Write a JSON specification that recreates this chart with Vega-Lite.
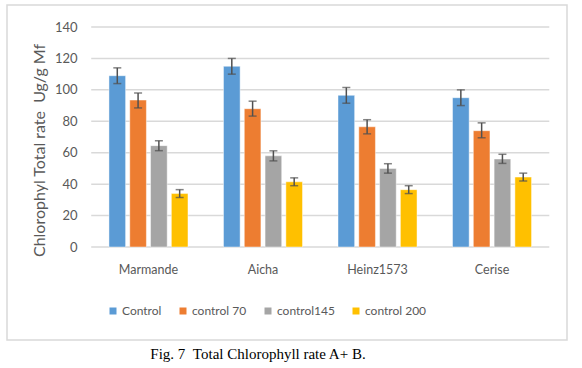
{
  "$schema": "https://vega.github.io/schema/vega-lite/v6.json",
  "width": 560,
  "height": 335,
  "autosize": "none",
  "padding": {"left": 7, "top": 5, "right": 15, "bottom": 28},
  "background": "white",
  "config": {
    "view": {"stroke": "#D9D9D9", "strokeWidth": 1.5},
    "font": "Lato"
  },
  "title": {
    "text": "Fig. 7 \u00a0Total Chlorophyll rate A+ B.",
    "orient": "bottom",
    "anchor": "middle",
    "frame": "group",
    "font": "Liberation Serif",
    "fontSize": 15,
    "fontWeight": "normal",
    "color": "#000000",
    "offset": 7,
    "dx": -29
  },
  "datasets": {
    "bars": [
      {"cultivar": "Marmande", "treatment": "Control", "value": 109, "lo": 104, "hi": 114},
      {"cultivar": "Marmande", "treatment": "control 70", "value": 93.5, "lo": 88.5, "hi": 98},
      {"cultivar": "Marmande", "treatment": "control145", "value": 64.5, "lo": 61.3, "hi": 67.6},
      {"cultivar": "Marmande", "treatment": "control 200", "value": 34, "lo": 31.5, "hi": 36.5},
      {"cultivar": "Aicha", "treatment": "Control", "value": 115, "lo": 110, "hi": 120},
      {"cultivar": "Aicha", "treatment": "control 70", "value": 88, "lo": 83.3, "hi": 92.8},
      {"cultivar": "Aicha", "treatment": "control145", "value": 58, "lo": 54.8, "hi": 61.2},
      {"cultivar": "Aicha", "treatment": "control 200", "value": 41.5, "lo": 39, "hi": 44},
      {"cultivar": "Heinz1573", "treatment": "Control", "value": 96.5, "lo": 91.5, "hi": 101.5},
      {"cultivar": "Heinz1573", "treatment": "control 70", "value": 76.5, "lo": 72, "hi": 81},
      {"cultivar": "Heinz1573", "treatment": "control145", "value": 50, "lo": 47, "hi": 53},
      {"cultivar": "Heinz1573", "treatment": "control 200", "value": 36.5, "lo": 34, "hi": 39},
      {"cultivar": "Cerise", "treatment": "Control", "value": 95, "lo": 90, "hi": 100},
      {"cultivar": "Cerise", "treatment": "control 70", "value": 74, "lo": 69.5, "hi": 79},
      {"cultivar": "Cerise", "treatment": "control145", "value": 56, "lo": 53.2, "hi": 59},
      {"cultivar": "Cerise", "treatment": "control 200", "value": 44.5, "lo": 42, "hi": 47}
    ],
    "grid": [{"g": 0}, {"g": 20}, {"g": 40}, {"g": 60}, {"g": 80}, {"g": 100}, {"g": 120}, {"g": 140}]
  },
  "encoding": {
    "x": {
      "field": "cultivar",
      "type": "nominal",
      "sort": ["Marmande", "Aicha", "Heinz1573", "Cerise"],
      "scale": {"domain": ["Marmande", "Aicha", "Heinz1573", "Cerise"], "paddingInner": 0.31, "paddingOuter": 0.6, "align": 0.742},
      "axis": {
        "orient": "bottom",
        "offset": -93,
        "title": null,
        "domain": false,
        "ticks": false,
        "labelAngle": 0,
        "labelPadding": 16,
        "labelFont": "Lato",
        "labelFontSize": 12.5,
        "labelColor": "#595959"
      }
    }
  },
  "layer": [
    {
      "data": {"name": "grid"},
      "mark": {"type": "rule", "color": "#D9D9D9", "strokeWidth": 1.5},
      "encoding": {
        "x": {"datum": "Marmande", "bandPosition": -0.2247},
        "x2": {"datum": "Cerise", "bandPosition": 1.2247},
        "y": {"field": "g", "type": "quantitative"}
      }
    },
    {
      "data": {"name": "bars"},
      "mark": {"type": "bar", "stroke": "#ffffff", "strokeOpacity": 0.45, "strokeWidth": 1},
      "encoding": {
        "xOffset": {
          "field": "treatment",
          "type": "nominal",
          "sort": ["Control", "control 70", "control145", "control 200"],
          "scale": {"domain": ["Control", "control 70", "control145", "control 200"], "paddingInner": 0.2, "paddingOuter": 0}
        },
        "y": {
          "field": "value",
          "type": "quantitative",
          "scale": {"domain": [-59.18, 154], "nice": false, "zero": false},
          "axis": {
            "values": [0, 20, 40, 60, 80, 100, 120, 140],
            "offset": -84,
            "grid": false,
            "domain": false,
            "ticks": false,
            "labelPadding": 14,
            "labelFont": "Lato",
            "labelFontSize": 13,
            "labelColor": "#595959",
            "title": "Chlorophyl Total rate \u00a0Ug/g Mf",
            "titleFont": "Lato",
            "titleFontSize": 16,
            "titleFontWeight": "normal",
            "titleColor": "#595959",
            "titleX": -52,
            "titleY": 145,
            "titleAlign": "center",
            "titleBaseline": "middle",
            "titleAngle": -90
          }
        },
        "y2": {"datum": 0},
        "color": {
          "field": "treatment",
          "type": "nominal",
          "scale": {"domain": ["Control", "control 70", "control145", "control 200"], "range": ["#5B9BD5", "#ED7D31", "#A5A5A5", "#FFC000"]},
          "legend": {
            "orient": "none",
            "direction": "horizontal",
            "legendX": 100,
            "legendY": 300,
            "title": null,
            "symbolType": "square",
            "symbolSize": 49,
            "symbolStrokeWidth": 0,
            "labelFont": "Lato",
            "labelFontSize": 12,
            "labelColor": "#595959",
            "labelOffset": 3,
            "columnPadding": 15,
            "padding": 0
          }
        }
      }
    },
    {
      "data": {"name": "bars"},
      "mark": {"type": "rule", "color": "#505050", "strokeWidth": 1.5},
      "encoding": {
        "xOffset": {"field": "treatment", "type": "nominal", "sort": ["Control", "control 70", "control145", "control 200"]},
        "y": {"field": "lo", "type": "quantitative"},
        "y2": {"field": "hi"}
      }
    },
    {
      "data": {"name": "bars"},
      "mark": {"type": "tick", "color": "#505050", "size": 8, "thickness": 1.5},
      "encoding": {
        "xOffset": {"field": "treatment", "type": "nominal", "sort": ["Control", "control 70", "control145", "control 200"]},
        "y": {"field": "lo", "type": "quantitative"}
      }
    },
    {
      "data": {"name": "bars"},
      "mark": {"type": "tick", "color": "#505050", "size": 8, "thickness": 1.5},
      "encoding": {
        "xOffset": {"field": "treatment", "type": "nominal", "sort": ["Control", "control 70", "control145", "control 200"]},
        "y": {"field": "hi", "type": "quantitative"}
      }
    }
  ]
}
